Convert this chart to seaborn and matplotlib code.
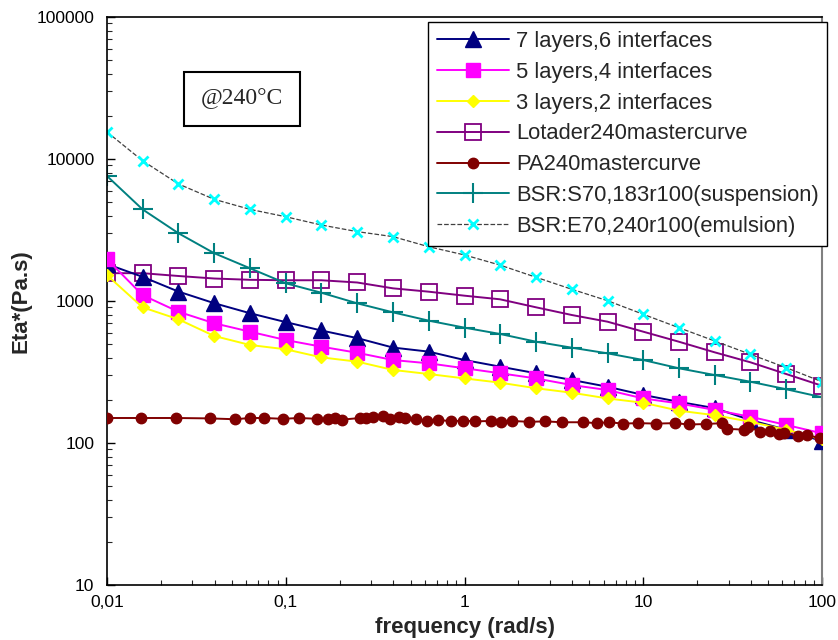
import numpy as np
import pandas as pd
import matplotlib
matplotlib.use("Agg")
import matplotlib.pyplot as plt
import matplotlib.ticker as mticker
import seaborn as sns

# --- datos ---
freq = [0.01, 0.0158, 0.0251, 0.0398, 0.0631, 0.1, 0.158, 0.251, 0.398, 0.631,
        1.0, 1.58, 2.51, 3.98, 6.31, 10, 15.8, 25.1, 39.8, 63.1, 100]

capas7 = [1820, 1480, 1165, 965, 820, 710, 620, 548, 470, 440,
          384, 345, 310, 278, 249, 218, 195, 176, 145, 124, 103]
capas5 = [1970, 1100, 840, 697, 608, 531, 477, 432, 384, 364,
          336, 310, 285, 256, 236, 206, 190, 171, 153, 134, 117]
capas3 = [1520, 903, 743, 567, 490, 457, 401, 374, 327, 306,
          285, 266, 243, 226, 206, 192, 169, 157, 141, 124, 106]
lotader = [1570, 1570, 1500, 1440, 1410, 1400, 1400, 1350, 1228, 1163,
           1090, 1028, 903, 797, 715, 608, 517, 435, 370, 306, 253]
suspension = [7590, 4420, 3000, 2170, 1700, 1333, 1144, 963, 832, 727,
              649, 586, 517, 469, 428, 384, 336, 301, 270, 239, 210]
emulsion = [15500, 9730, 6670, 5200, 4420, 3920, 3430, 3080, 2840, 2410,
            2110, 1790, 1470, 1210, 1005, 806, 649, 523, 421, 339, 270]

freq_pa = [0.01, 0.0155, 0.0243, 0.0377, 0.052, 0.063, 0.0755, 0.0966, 0.119, 0.150,
           0.172, 0.189, 0.206, 0.260, 0.281, 0.308, 0.350, 0.383, 0.430, 0.465,
           0.535, 0.617, 0.711, 0.840, 0.981, 1.15, 1.41, 1.60, 1.84, 2.30,
           2.82, 3.51, 4.60, 5.51, 6.43, 7.70, 9.35, 11.8, 15.1, 18.0,
           22.4, 27.6, 29.4, 36.6, 38.6, 45.0, 51.2, 57.4, 61.3, 73.4,
           82.4, 97.5]
pa = [150, 150, 150, 149, 147, 150, 150, 148, 150, 148,
      147, 150, 146, 150, 149, 153, 156, 147, 153, 149,
      147, 143, 146, 142, 144, 142, 143, 141, 143, 141,
      142, 140, 140, 138, 140, 137, 138, 137, 138, 135,
      136, 138, 126, 124, 130, 120, 122, 116, 118, 112,
      114, 108]

x_ticks = [0.01, 0.1, 1, 10, 100]
x_labels = ["0,01", "0,1", "1", "10", "100"]
y_ticks = [10, 100, 1000, 10000, 100000]
y_labels = ["10", "100", "1000", "10000", "100000"]

sns.set_theme(style="white")
plt.rcParams['font.family'] = ['Liberation Sans', 'DejaVu Sans']

fig = plt.figure(figsize=(8.38, 6.40), dpi=100)
ax = fig.add_axes([107 / 838, 55 / 640, 715 / 838, 568 / 640])

# (label, x, y, color, marker, ms, mfc, mew, linestyle, linecolor, zorder)
series = [
    ("7 layers,6 interfaces", freq, capas7, "#000080", "^", 12, "#000080", 1, "-", "#000080", 3.0),
    ("5 layers,4 interfaces", freq, capas5, "#ff00ff", "s", 9.5, "#ff00ff", 1, "-", "#ff00ff", 3.1),
    ("3 layers,2 interfaces", freq, capas3, "#ffff00", "D", 6.5, "#ffff00", 1, "-", "#ffff00", 3.2),
    ("Lotader240mastercurve", freq, lotader, "#800080", "s", 11, "none", 1.3, "-", "#800080", 2.0),
    ("PA240mastercurve", freq_pa, pa, "#800000", "o", 7.5, "#800000", 1, "-", "#800000", 3.3),
    ("BSR:S70,183r100(suspension)", freq, suspension, "#008080", "+", 14, "#008080", 1.5, "-", "#008080", 2.1),
    ("BSR:E70,240r100(emulsion)", freq, emulsion, "#00ffff", "x", 6.5, "#00ffff", 2, "--", "#404040", 2.2),
]

for nombre, xs, ys, col, mk, ms, mfc, mew, ls, lc, z in series:
    df = pd.DataFrame({"f": xs, "eta": ys})
    sns.lineplot(data=df, x="f", y="eta", ax=ax, estimator=None, sort=False,
                 color=lc, linestyle=ls, linewidth=1.4 if ls == "-" else 0.9,
                 marker=mk, markersize=ms, markerfacecolor=mfc,
                 markeredgecolor=col, markeredgewidth=mew,
                 label=nombre, zorder=z)

ax.set_xscale("log")
ax.set_yscale("log")
ax.set_xlim(0.01, 100)
ax.set_ylim(10, 100000)

ax.xaxis.set_major_locator(mticker.FixedLocator(x_ticks))
ax.xaxis.set_major_formatter(mticker.FixedFormatter(x_labels))
ax.yaxis.set_major_locator(mticker.FixedLocator(y_ticks))
ax.yaxis.set_major_formatter(mticker.FixedFormatter(y_labels))
ax.xaxis.set_minor_locator(mticker.LogLocator(base=10, subs=np.arange(2, 10)))
ax.yaxis.set_minor_locator(mticker.LogLocator(base=10, subs=np.arange(2, 10)))
ax.xaxis.set_minor_formatter(mticker.NullFormatter())
ax.yaxis.set_minor_formatter(mticker.NullFormatter())

ax.tick_params(axis="both", which="major", direction="in", length=6, width=1,
               labelsize=12.5, colors="black", pad=7, bottom=True, left=True)
ax.tick_params(axis="both", which="minor", direction="in", length=3.5, width=0.8,
               bottom=True, left=True)
ax.tick_params(axis="y", which="major", pad=9)

for lado in ["left", "bottom", "top"]:
    ax.spines[lado].set_color("black")
    ax.spines[lado].set_linewidth(1.2)
ax.spines["right"].set_color("#808080")
ax.spines["right"].set_linewidth(1.5)

ax.set_xlabel("frequency (rad/s)", fontsize=16, fontweight="bold", labelpad=5)
ax.set_ylabel("Eta*(Pa.s)", fontsize=16, fontweight="bold", labelpad=4)
ax.grid(False)

leg = ax.legend(loc="upper left", bbox_to_anchor=(428 / 838, 1 - 22 / 640),
                bbox_transform=fig.transFigure, fontsize=15.8, frameon=True,
                fancybox=False, framealpha=1, edgecolor="black",
                handlelength=3.3, handletextpad=0.3, labelspacing=0.45,
                borderpad=0.4, borderaxespad=0)
leg.get_frame().set_linewidth(1.0)
leg.set_zorder(10)

fig.text(242 / 838, 1 - 99 / 640, "@240°C", fontsize=17,
         family=["Liberation Serif", "DejaVu Serif"], ha="center", va="center",
         bbox=dict(boxstyle="square,pad=0.7", facecolor="white",
                   edgecolor="black", linewidth=1.5))

fig.savefig("out.png", dpi=100)
